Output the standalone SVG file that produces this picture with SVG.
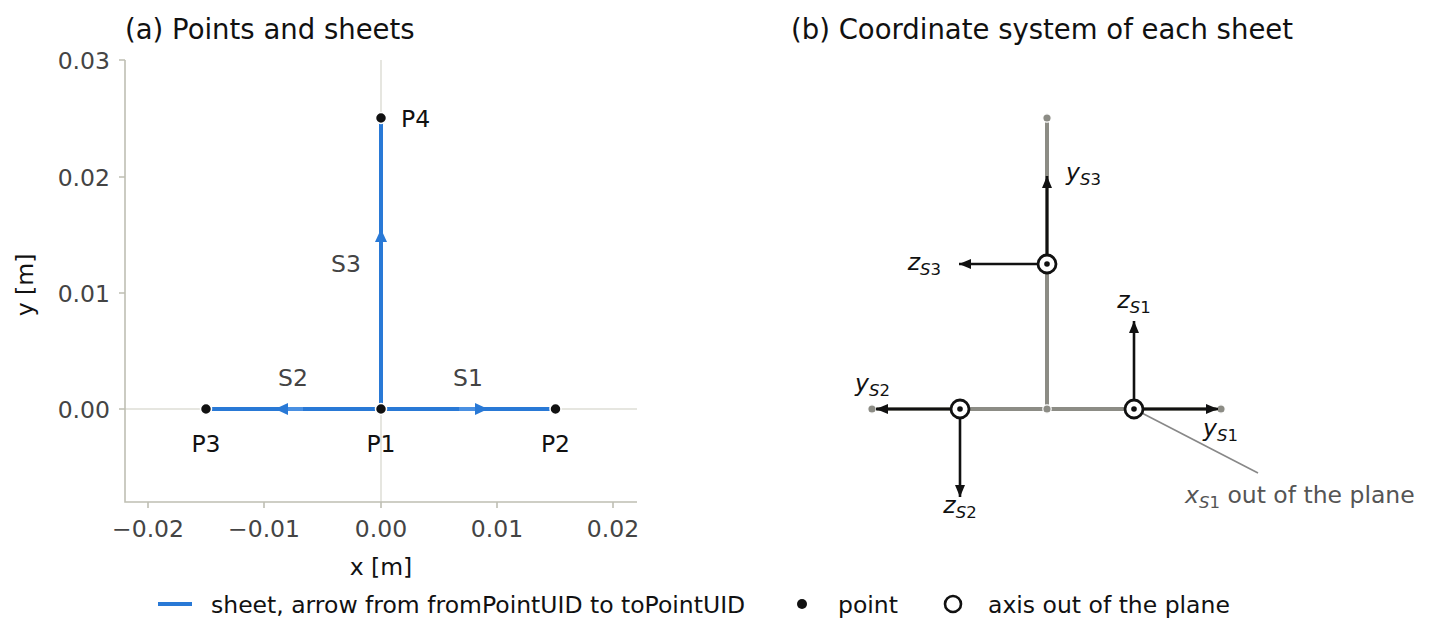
<svg xmlns="http://www.w3.org/2000/svg" width="1432" height="642" viewBox="0 0 1432 642">
<style>
text{font-family:"DejaVu Sans","Liberation Sans",sans-serif;}
.title{font-size:27.5px;fill:#111;}
.tick{font-size:23.5px;fill:#444;}
.lab{font-size:23.5px;fill:#111;}
.slab{font-size:23.5px;fill:#444;}
.m{font-size:23.5px;fill:#111;}
.sub{font-size:16.5px;}
.it{font-style:italic;}
.spine{stroke:#bfbfb3;stroke-width:1.6;fill:none;}
.grid{stroke:#deded6;stroke-width:1.5;}
.sheet{stroke:#2979d6;stroke-width:4;fill:none;}
.head{fill:#2979d6;}
.pt{fill:#111;stroke:#fff;stroke-width:1.5;}
.gpt{fill:#8c8c85;stroke:#fff;stroke-width:1.2;}
.gline{stroke:#8c8c85;stroke-width:4;fill:none;}
.ax{stroke:#111;stroke-width:2.6;fill:none;marker-end:url(#ah);}
.circ{fill:#fff;stroke:#111;stroke-width:2.8;}
</style>
<defs>
<marker id="ah" markerUnits="userSpaceOnUse" markerWidth="12" markerHeight="10" refX="12" refY="5" orient="auto">
<path d="M0,0 L12,5 L0,10 z" fill="#111"/>
</marker>
</defs>
<rect width="1432" height="642" fill="#fff"/>

<!-- titles -->
<text class="title" x="125" y="39">(a) Points and sheets</text>
<text class="title" x="791" y="39">(b) Coordinate system of each sheet</text>

<!-- panel a axes -->
<g id="axes-a">
<line class="grid" x1="381" y1="60" x2="381" y2="502"/>
<line class="grid" x1="125" y1="409" x2="637" y2="409"/>
<path class="spine" d="M125,60 V502 H637"/>
<path class="spine" d="M119,60 H125 M119,177 H125 M119,293 H125 M119,409 H125 M148,502 V508 M264,502 V508 M381,502 V508 M497,502 V508 M613,502 V508"/>
<g class="tick" text-anchor="end">
<text x="110" y="68.5">0.03</text>
<text x="110" y="185.5">0.02</text>
<text x="110" y="301.5">0.01</text>
<text x="110" y="417.5">0.00</text>
</g>
<g class="tick" text-anchor="middle">
<text x="148" y="537">−0.02</text>
<text x="264" y="537">−0.01</text>
<text x="381" y="537">0.00</text>
<text x="497" y="537">0.01</text>
<text x="613" y="537">0.02</text>
</g>
<text class="lab" x="381" y="575" text-anchor="middle">x [m]</text>
<text class="lab" transform="translate(33,285) rotate(-90)" text-anchor="middle">y [m]</text>
</g>

<!-- panel a connectors -->
<g id="sheets-a">
<line class="sheet" x1="381" y1="409" x2="555" y2="409"/>
<line class="sheet" x1="381" y1="409" x2="206" y2="409"/>
<line class="sheet" x1="381" y1="409" x2="381" y2="118"/>
<line x1="459" y1="409" x2="476" y2="409" stroke="#4a90e2" stroke-width="4"/>
<line x1="303" y1="409" x2="288" y2="409" stroke="#4a90e2" stroke-width="4"/>
<polygon class="head" points="488,409 475,403 475,415"/>
<polygon class="head" points="275,409 288,403 288,415"/>
<polygon class="head" points="381,229 375,242 387,242"/>
</g>
<g id="labels-sheets">
<text class="slab" x="468" y="385.5" text-anchor="middle">S1</text>
<text class="slab" x="293" y="385.5" text-anchor="middle">S2</text>
<text class="slab" x="346" y="271.5" text-anchor="middle">S3</text>
</g>
<g id="P1"><circle class="pt" cx="381" cy="409" r="5.5"/><text class="lab" x="381" y="451.5" text-anchor="middle">P1</text></g>
<g id="P2"><circle class="pt" cx="555.5" cy="409" r="5.5"/><text class="lab" x="555.5" y="451.5" text-anchor="middle">P2</text></g>
<g id="P3"><circle class="pt" cx="206" cy="409" r="5.5"/><text class="lab" x="206" y="451.5" text-anchor="middle">P3</text></g>
<g id="P4"><circle class="pt" cx="381" cy="118" r="5.5"/><text class="lab" x="401" y="126.5">P4</text></g>

<!-- panel b -->
<g id="frame-b">
<line class="gline" x1="872" y1="409" x2="1221" y2="409"/>
<line class="gline" x1="1047" y1="409" x2="1047" y2="118"/>
<circle class="gpt" cx="872" cy="409" r="4.2"/>
<circle class="gpt" cx="1221" cy="409" r="4.2"/>
<circle class="gpt" cx="1047" cy="118" r="4.2"/>
<circle class="gpt" cx="1047" cy="409" r="4.2"/>
</g>
<g id="axes-b">
<line class="ax" x1="1134" y1="409" x2="1218" y2="409"/>
<line class="ax" x1="1134" y1="409" x2="1134" y2="321"/>
<line class="ax" x1="960" y1="409" x2="876" y2="409"/>
<line class="ax" x1="960" y1="409" x2="960" y2="497"/>
<line class="ax" x1="1047" y1="264" x2="1047" y2="176"/>
<line class="ax" x1="1047" y1="264" x2="959" y2="264"/>
<line x1="1136" y1="410" x2="1258" y2="473" stroke="#888" stroke-width="1.6"/>
</g>
<g id="S1-frame"><circle class="circ" cx="1134" cy="409" r="9"/><circle cx="1134" cy="409" r="2.8" fill="#111"/></g>
<g id="S2-frame"><circle class="circ" cx="960" cy="409" r="9"/><circle cx="960" cy="409" r="2.8" fill="#111"/></g>
<g id="S3-frame"><circle class="circ" cx="1047" cy="264" r="9"/><circle cx="1047" cy="264" r="2.8" fill="#111"/></g>
<g id="labels-b" class="m">
<text x="1066" y="180"><tspan class="it">y</tspan><tspan class="sub it" dy="5">S</tspan><tspan class="sub">3</tspan></text>
<text x="941" y="270" text-anchor="end"><tspan class="it">z</tspan><tspan class="sub it" dy="5">S</tspan><tspan class="sub">3</tspan></text>
<text x="1134" y="308" text-anchor="middle"><tspan class="it">z</tspan><tspan class="sub it" dy="5">S</tspan><tspan class="sub">1</tspan></text>
<text x="855" y="391"><tspan class="it">y</tspan><tspan class="sub it" dy="5">S</tspan><tspan class="sub">2</tspan></text>
<text x="1203" y="436"><tspan class="it">y</tspan><tspan class="sub it" dy="5">S</tspan><tspan class="sub">1</tspan></text>
<text x="960" y="513" text-anchor="middle"><tspan class="it">z</tspan><tspan class="sub it" dy="5">S</tspan><tspan class="sub">2</tspan></text>
<text x="1185" y="503" fill="#555"><tspan class="it">x</tspan><tspan class="sub it" dy="5">S</tspan><tspan class="sub">1</tspan><tspan dy="-5"> out of the plane</tspan></text>
</g>

<!-- legend -->
<g id="legend" class="lab">
<line x1="158" y1="604" x2="192" y2="604" stroke="#2979d6" stroke-width="4"/>
<text x="211" y="612.5">sheet, arrow from fromPointUID to toPointUID</text>
<circle cx="802" cy="604" r="5" fill="#111"/>
<text x="838" y="612.5">point</text>
<circle cx="953" cy="604" r="8" fill="#fff" stroke="#111" stroke-width="2.6"/>
<text x="988" y="612.5">axis out of the plane</text>
</g>
</svg>
